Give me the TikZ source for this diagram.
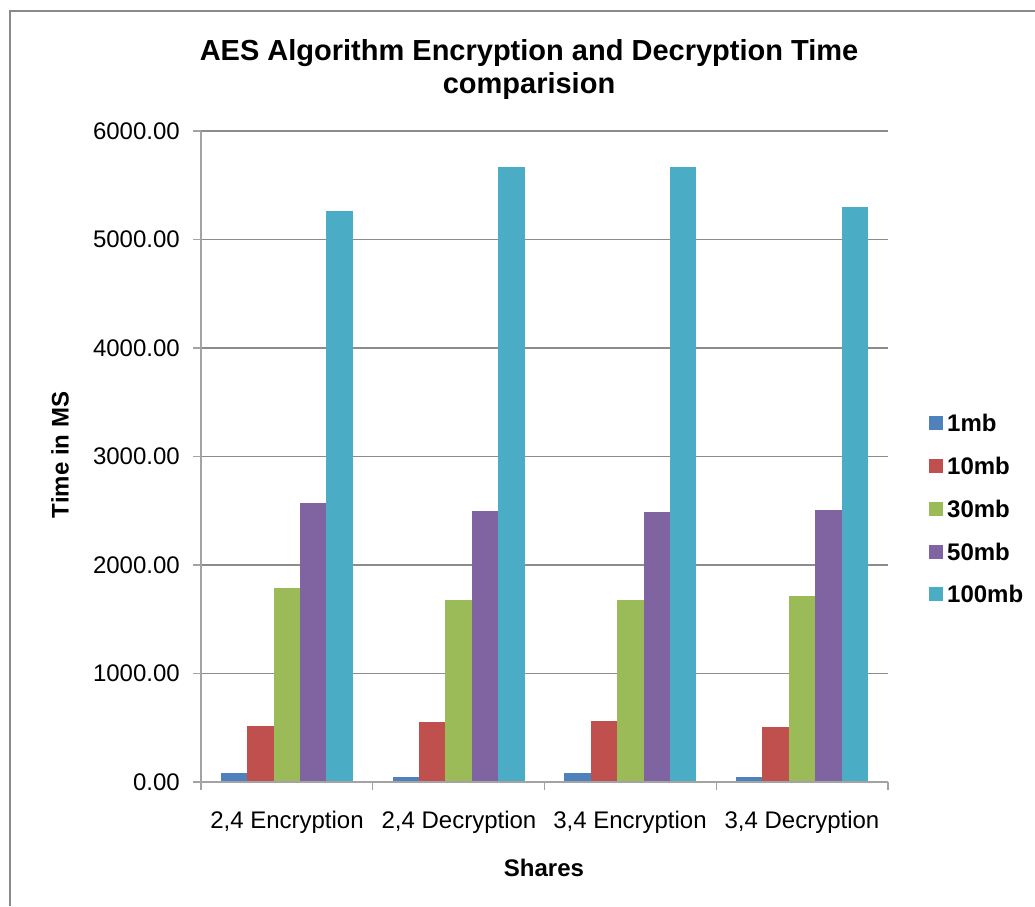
\documentclass[tikz,border=0pt]{standalone}
\usepackage{fontspec}
\setmainfont{Liberation Sans}
\definecolor{sOne}{HTML}{4F81BD}
\definecolor{sTen}{HTML}{C0504D}
\definecolor{sThirty}{HTML}{9BBB59}
\definecolor{sFifty}{HTML}{8064A2}
\definecolor{sHundred}{HTML}{4BACC6}
\definecolor{gridgray}{HTML}{8C8C8C}
\definecolor{framegray}{HTML}{8A8A8A}
\tikzset{
  frameline/.style={draw=framegray, line width=2pt},
  gridline/.style={draw=gridgray, line width=1.2pt},
  axisline/.style={draw=gridgray!80, line width=1.4pt},
  ticklabel/.style={font=\fontsize{24}{28}\selectfont, anchor=east, inner sep=0pt},
  catlabel/.style={font=\fontsize{24}{28}\selectfont, inner sep=0pt},
  axistitle/.style={font=\bfseries\fontsize{24}{28}\selectfont, inner sep=0pt},
  titletext/.style={font=\bfseries\fontsize{29}{33}\selectfont, align=center, inner sep=0pt},
  legendtext/.style={font=\bfseries\fontsize{24}{28}\selectfont, anchor=west, inner sep=0pt},
}
\begin{document}
\begin{tikzpicture}[x=1pt,y=-1pt]
\useasboundingbox (0,0) rectangle (1035,906);
% chart frame (continues past the right and bottom edges)
\draw[frameline] (10,906) |- (1035,11);

% title
\node[titletext] (title) at (529,69) {AES Algorithm Encryption and Decryption Time\\comparision};

% value grid and labels
\foreach \v in {1,...,6}{
  \draw[gridline] (201,782-108.5*\v) -- (888,782-108.5*\v);
}
\foreach \v/\t in {0/0.00,1/1000.00,2/2000.00,3/3000.00,4/4000.00,5/5000.00,6/6000.00}{
  \draw[axisline] (193,782-108.5*\v) -- (201,782-108.5*\v);
  \node[ticklabel] (yl\v) at (180,782-108.5*\v) {\t};
}

% bars: one group per category, five series each
\begin{scope}[shift={(0pt,-782pt)}, y=0.1085pt]
\foreach \c/\a/\b/\g/\p/\q in {0/86/517/1788/2571/5263,1/49/553/1675/2498/5665,2/86/566/1675/2489/5665,3/49/508/1710/2511/5297}{
  \pgfmathsetmacro{\xs}{201+171.75*\c+19.8}
  \fill[sOne]     (\xs,0) rectangle ++(26.4,\a);
  \fill[sTen]     (\xs+26.4,0) rectangle ++(26.4,\b);
  \fill[sThirty]  (\xs+52.8,0) rectangle ++(26.4,\g);
  \fill[sFifty]   (\xs+79.2,0) rectangle ++(26.4,\p);
  \fill[sHundred] (\xs+105.6,0) rectangle ++(26.4,\q);
}
\end{scope}

% axes
\draw[axisline] (201,131) -- (201,782) -- (888,782);
\foreach \i in {0,...,4}{
  \draw[axisline] (201+171.75*\i,782) -- (201+171.75*\i,790);
}

% category labels
\node[catlabel] (c1) at (287,822) {2,4 Encryption};
\node[catlabel] (c2) at (459,822) {2,4 Decryption};
\node[catlabel] (c3) at (630,822) {3,4 Encryption};
\node[catlabel] (c4) at (802,822) {3,4 Decryption};

% axis titles
\node[axistitle] (xt) at (544,868) {Shares};
\node[axistitle, rotate=90] (yt) at (60,455) {Time in MS};

% legend
\foreach \n/\col/\lab/\yy in {1/sOne/1mb/423,2/sTen/10mb/466,3/sThirty/30mb/509,4/sFifty/50mb/552,5/sHundred/100mb/594}{
  \fill[\col] (929,\yy-7) rectangle (943,\yy+7);
  \node[legendtext] (leg\n) at (947,\yy) {\lab};
}
\end{tikzpicture}
\end{document}
